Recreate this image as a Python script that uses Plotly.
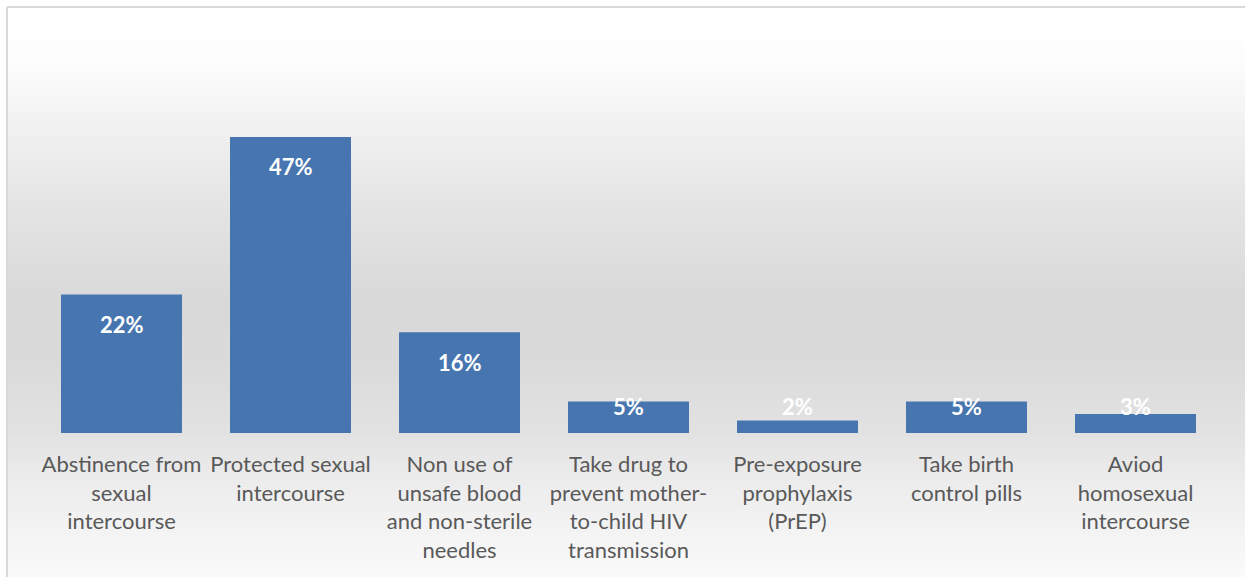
import plotly.graph_objects as go

categories = [
    "Abstinence from<br>sexual<br>intercourse",
    "Protected sexual<br>intercourse",
    "Non use of<br>unsafe blood<br>and non-sterile<br>needles",
    "Take drug to<br>prevent mother-<br>to-child HIV<br>transmission",
    "Pre-exposure<br>prophylaxis<br>(PrEP)",
    "Take birth<br>control pills",
    "Aviod<br>homosexual<br>intercourse",
]
values = [0.22, 0.47, 0.16, 0.05, 0.02, 0.05, 0.03]
labels = ["22%", "47%", "16%", "5%", "2%", "5%", "3%"]

W, H = 1245, 577
ML, MR, MT, MB = 37, 25, 118, 144
PW = W - ML - MR
PH = H - MT - MB
YMAX = 0.5

def px_x(px):
    return (px - ML) / PW

def px_y(py):
    return (H - MB - py) / PH

fig = go.Figure()
fig.add_trace(go.Bar(
    x=categories, y=values,
    marker=dict(color="#4675af", line=dict(width=0)),
    hoverinfo="skip",
))

# background gradient (chart area style)
stops = [(7, 255), (60, 253), (150, 237), (200, 229), (300, 217), (360, 218),
         (433, 226), (480, 236), (577, 250)]

def gray_at(py):
    for (y0, g0), (y1, g1) in zip(stops[:-1], stops[1:]):
        if y0 <= py <= y1:
            t = (py - y0) / (y1 - y0)
            return g0 + (g1 - g0) * t
    return stops[-1][1]

shapes = []
step = 3
py = 7
while py < H:
    g = int(round(gray_at(py + step / 2)))
    c = f"rgb({g},{g},{g})"
    shapes.append(dict(type="rect", xref="paper", yref="paper",
                       x0=px_x(7), x1=px_x(W + 5), y0=px_y(py + step + 0.5), y1=px_y(py),
                       fillcolor=c, line=dict(width=0), layer="below"))
    py += step
# border (top and left)
shapes.append(dict(type="line", xref="paper", yref="paper",
                   x0=px_x(7), x1=px_x(W + 5), y0=px_y(7), y1=px_y(7),
                   line=dict(color="#d9d9d9", width=2), layer="below"))
shapes.append(dict(type="line", xref="paper", yref="paper",
                   x0=px_x(7), x1=px_x(7), y0=px_y(7), y1=px_y(H + 5),
                   line=dict(color="#d9d9d9", width=2), layer="below"))

annotations = []
min_label = 0.089
for cat, v, lab in zip(categories, values, labels):
    annotations.append(dict(
        x=cat, y=max(v, min_label), xref="x", yref="y",
        text=lab, showarrow=False, yanchor="middle", yshift=-30,
        font=dict(family="Lato, Carlito, Calibri, sans-serif", size=22, color="white", weight="bold"),
    ))

fig.update_layout(
    width=W, height=H,
    margin=dict(l=ML, r=MR, t=MT, b=MB, pad=0),
    paper_bgcolor="white",
    plot_bgcolor="rgba(0,0,0,0)",
    bargap=0.284,
    showlegend=False,
    shapes=shapes,
    annotations=annotations,
    font=dict(family="Lato, Carlito, Calibri, sans-serif"),
    xaxis=dict(
        showgrid=False, zeroline=False, showline=False, ticks="",
        tickfont=dict(size=22, color="#595959", family="Lato, Carlito, Calibri, sans-serif"),
        tickangle=0, ticklabelstandoff=16,
    ),
    yaxis=dict(range=[0, YMAX], visible=False, showgrid=False, zeroline=False),
)

fig.write_html("out.html")
